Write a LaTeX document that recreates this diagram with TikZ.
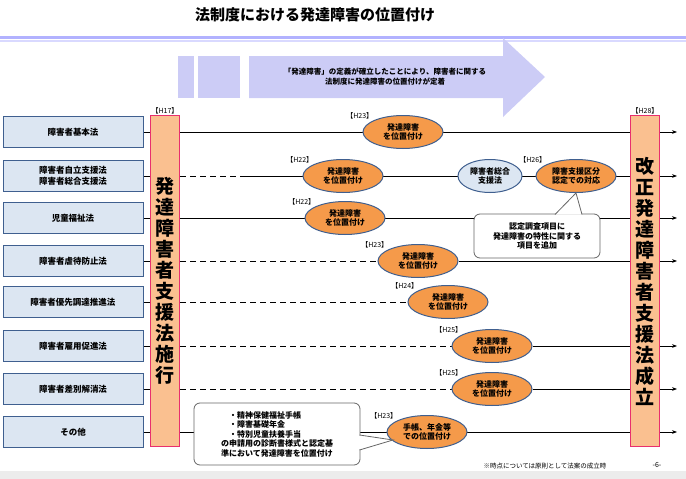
\documentclass[tikz,border=0pt]{standalone}
\usepackage{fontspec}
\setmainfont{Noto Sans CJK JP}
\usetikzlibrary{arrows.meta,shapes.geometric}
\pgfdeclarelayer{background}
\pgfsetlayers{background,main}
\definecolor{boxfill}{HTML}{DCE6F2}
\definecolor{boxline}{HTML}{3F5F8F}
\definecolor{ellfill}{HTML}{F59A4A}
\definecolor{barfill}{HTML}{FAC090}
\definecolor{barline}{HTML}{E8306E}
\definecolor{arrfill}{HTML}{CCCCF6}
\tikzset{
  law/.style={draw=boxline,fill=boxfill,minimum width=140pt,minimum height=31pt,font=\fontsize{8.5}{10.5}\selectfont\bfseries,align=center},
  ev/.style={ellipse,draw=boxline,line width=1pt,fill=ellfill,minimum width=80pt,minimum height=33pt,inner sep=0pt,font=\fontsize{8}{9.5}\selectfont\bfseries,align=center},
  yr/.style={font=\fontsize{7}{7}\selectfont,anchor=south east,inner sep=1pt},
  bar/.style={draw=barline,line width=1pt,fill=barfill,minimum width=29pt,minimum height=331pt,font=\fontsize{19}{21}\selectfont\bfseries,align=center,inner sep=0pt},
  tl/.style={line width=1pt,-{Stealth[length=5pt]}},
  dl/.style={line width=1pt,dash pattern=on 6pt off 4pt},
  note/.style={draw=gray!80!black,line width=.8pt,fill=white,rounded corners=6pt,font=\fontsize{8}{9.5}\selectfont\bfseries,align=center}
}
\begin{document}
\begin{tikzpicture}[x=1pt,y=-1pt]
\useasboundingbox (0,0) rectangle (686,479);

% title and rule
\node (title) at (315,15) {\fontsize{15}{16}\selectfont\bfseries 法制度における発達障害の位置付け};
\fill[blue!30] (0,36) rectangle (686,38.5);
\fill[blue!15] (0,40) rectangle (686,42);
\fill[gray!15] (0,471) rectangle (686,479);

% big arrow
\fill[arrfill] (178,56) rectangle (194,98);
\fill[arrfill] (198,56) rectangle (240,98);
\fill[arrfill] (249,56) -- (503,56) -- (503,38) -- (545,77) -- (503,117) -- (503,98) -- (249,98) -- cycle;
\node[font=\fontsize{7.5}{10}\selectfont\bfseries,align=center] (msg) at (385,77) {「発達障害」の定義が確立したことにより、障害者に関する\\法制度に発達障害の位置付けが定着};

% laws
\foreach \n/\y/\t in {a/132/障害者基本法,b/176/{障害者自立支援法\\障害者総合支援法},c/218/児童福祉法,
  d/261/障害者虐待防止法,e/302/障害者優先調達推進法,f/346/障害者雇用促進法,g/389/障害者差別解消法,h/432/その他}{
  \node[law] (\n) at (73,\y) {\t};
  \coordinate (\n s) at (180,\y);
  \coordinate (\n e) at (677,\y);
}

% events
\node[ev] (ea) at (403,132) {発達障害\\を位置付け};
\node[ev] (eb) at (343,176) {発達障害\\を位置付け};
\node[ev,fill=boxfill,minimum width=64pt] (eb2) at (490,176) {障害者総合\\支援法};
\node[ev] (eb3) at (576,176) {障害支援区分\\認定での対応};
\node[ev] (ec) at (345,218) {発達障害\\を位置付け};
\node[ev] (ed) at (418,261) {発達障害\\を位置付け};
\node[ev] (ee) at (448,302) {発達障害\\を位置付け};
\node[ev] (ef) at (492,346) {発達障害\\を位置付け};
\node[ev] (eg) at (492,389) {発達障害\\を位置付け};
\node[ev] (eh) at (427,432) {手帳、年金等\\での位置付け};
\coordinate (bd) at (240,176);

% time lines
\begin{pgfonlayer}{background}
\foreach \n in {a,b,c,d,e,f,g,h}{ \draw[line width=1pt] (\n) -- (\n s); }
\draw[tl] (as) -- (ae);
\draw[dl] (bs) -- (bd);
\draw[tl] (bd) -- (be);
\draw[tl] (cs) -- (ce);
\foreach \n in {d,e,f,g}{
  \draw[dl] (\n s) -- (e\n);
  \draw[tl] (e\n) -- (\n e);
}
\draw[tl] (hs) -- (he);
\end{pgfonlayer}

% years
\node[yr] (ya) at (ea.north west) {【H23】};
\node[yr] (yb) at (eb.north west) {【H22】};
\node[yr] (yb3) at (eb3.north west) {【H26】};
\node[yr] (yc) at (ec.north west) {【H22】};
\node[yr] (yd) at (ed.north west) {【H23】};
\node[yr] (ye) at (ee.north west) {【H24】};
\node[yr] (yf) at (ef.north west) {【H25】};
\node[yr] (yg) at (eg.north west) {【H25】};
\node[yr] (yh) at (eh.north west) {【H23】};

% bars
\node[bar] (law17) at (165,281) {発\\達\\障\\害\\者\\支\\援\\法\\施\\行};
\node[bar] (law28) at (645,281) {改\\正\\発\\達\\障\\害\\者\\支\\援\\法\\成\\立};
\node[yr,anchor=south] (y17) at (law17.north) {【H17】};
\node[yr,anchor=south] (y28) at (law28.north) {【H28】};

% callouts
\node[note,minimum width=126pt,minimum height=44pt] (n1) at (537,236) {認定調査項目に\\発達障害の特性に関する\\項目を追加};
\fill[white,draw=gray!80!black,line width=.8pt] (555,214.5) -- (eb3.south) -- (582,214.5);
\fill[white] (554,215.5) rectangle (583,217);
\node[note,minimum width=166pt,minimum height=62pt,align=left] (n2) at (277,434) {\hspace{8pt}・精神保健福祉手帳\\\hspace{8pt}・障害基礎年金\\\hspace{8pt}・特別児童扶養手当\\の申請用の診断書様式と認定基\\準において発達障害を位置付け};
\fill[white,draw=gray!80!black,line width=.8pt] (359.5,435) -- (393,440) -- (359.5,450);
\fill[white] (358,436) rectangle (360.5,449);

% footnotes
\node[font=\fontsize{6.5}{7}\selectfont] (fn) at (545,466) {※時点については原則として法案の成立時};
\node[font=\fontsize{7}{7}\selectfont] (pg) at (657,465) {-6-};
\end{tikzpicture}
\end{document}
